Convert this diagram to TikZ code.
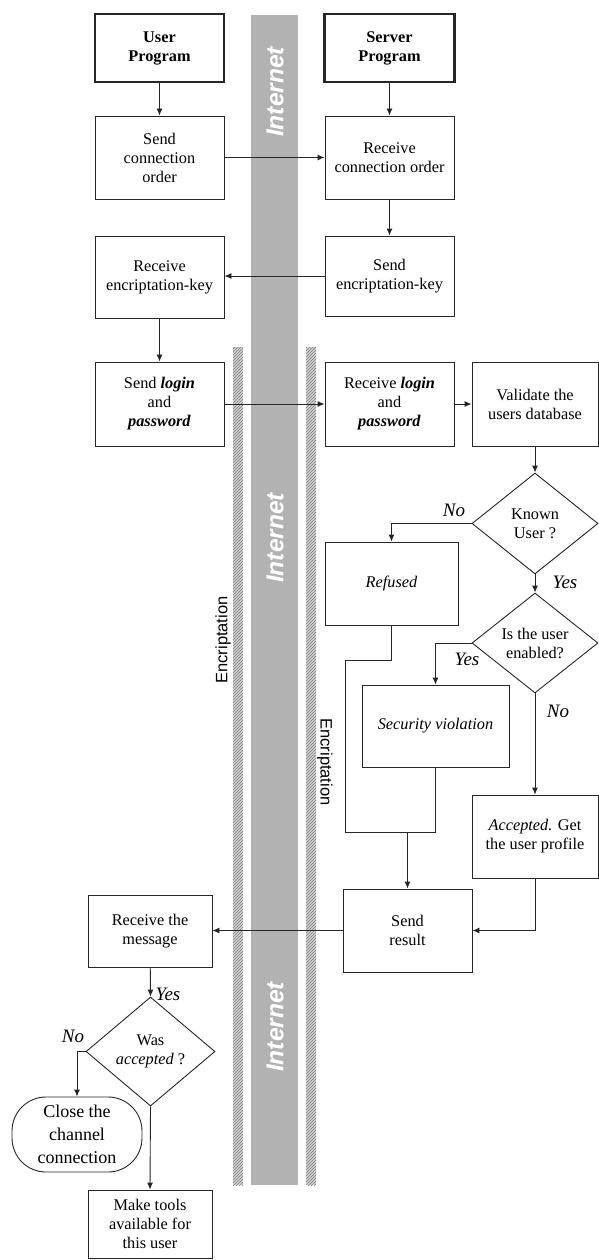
\documentclass[tikz,border=0pt]{standalone}
\usepackage{fontspec}
\setmainfont{Liberation Serif}
\setsansfont{Liberation Sans}
\usetikzlibrary{arrows.meta,shapes.geometric,patterns}
\begin{document}
\begin{tikzpicture}[x=1pt,y=-1pt,
  box/.style={draw=black!85, line width=0.9pt, fill=white, align=center, inner sep=0pt,
    font=\fontsize{16.3}{19}\selectfont},
  mainbox/.style={box, line width=2.2pt, font=\fontsize{16.3}{19}\selectfont\bfseries},
  dia/.style={diamond, draw=black!85, line width=0.9pt, fill=white, inner sep=0pt, aspect=1.2},
  diatext/.style={align=center, font=\fontsize{16.3}{19}\selectfont},
  arr/.style={draw=black!85, line width=0.9pt, -{Latex[length=7pt,width=6pt]}},
  ln/.style={draw=black!85, line width=0.9pt},
  yn/.style={font=\fontsize{19}{22}\selectfont\itshape, inner sep=0pt},
  net/.style={font=\fontsize{24.5}{27}\selectfont\sffamily\bfseries\itshape, text=white, rotate=90, inner sep=0pt},
  enc/.style={font=\fontsize{16.5}{19}\selectfont\sffamily, inner sep=0pt}
]
\useasboundingbox (0,0) rectangle (599,1260);
% Internet band
\fill[black!30] (251,15) rectangle (298,1185);
\node[net] (net1) at (275,92) {Internet};
\node[net] (net2) at (275,538) {Internet};
\node[net] (net3) at (275,1027) {Internet};
% Encryption strips
\fill[black!18] (233,347) rectangle (243,1185);
\fill[pattern=north east lines, pattern color=black!50] (233,347) rectangle (243,1185);
\fill[black!18] (306,347) rectangle (316,1185);
\fill[pattern=north east lines, pattern color=black!50] (306,347) rectangle (316,1185);
\node[enc, rotate=90] (encl) at (223,640) {Encriptation};
\node[enc, rotate=-90] (encr) at (325,762) {Encriptation};

% Nodes
\node[mainbox, minimum width=129, minimum height=68] (user) at (159.5,48) {User\\Program};
\node[box, minimum width=129, minimum height=83] (sendconn) at (159.5,157.5) {Send\\connection\\order};
\node[box, minimum width=129, minimum height=82] (recvkey) at (159.5,277) {Receive\\encriptation-key};
\node[mainbox, minimum width=130, minimum height=68] (server) at (389.5,48) {Server\\Program};
\node[box, minimum width=129, minimum height=83] (recvconn) at (389.5,157.5) {Receive\\connection order};
\node[box, minimum width=129, minimum height=80] (sendkey) at (389.5,276) {Send\\encriptation-key};
\node[box, minimum width=129, minimum height=84] (sendlogin) at (159.5,404) {Send \textbf{\textit{login}}\\and\\\textbf{\textit{password}}};
\node[box, minimum width=129, minimum height=84] (recvlogin) at (389.5,404) {Receive \textbf{\textit{login}}\\and\\\textbf{\textit{password}}};
\node[box, minimum width=126, minimum height=84] (validate) at (535,404) {Validate the\\users database};
\node[dia, minimum width=126, minimum height=101,
  label={[diatext]center:Known\\User ?}] (known) at (535,523.5) {};
\node[box, minimum width=133, minimum height=83] (refused) at (391.5,583.5) {\textit{Refused}};
\node[dia, minimum width=126, minimum height=100,
  label={[diatext]center:Is the user\\enabled?}] (enabled) at (535,643) {};
\node[box, minimum width=147, minimum height=82] (secviol) at (435.5,726) {\textit{Security violation}};
\node[box, minimum width=126, minimum height=83] (accepted) at (535,836.5) {\textit{Accepted.} Get\\the user profile};
\node[box, minimum width=129, minimum height=83] (sendresult) at (407.5,930.5) {Send\\result};
\node[box, minimum width=124, minimum height=72] (recvmsg) at (150,931) {Receive the\\message};
\node[dia, minimum width=129, minimum height=109,
  label={[diatext]center:Was\\\textit{accepted} ?}] (wasacc) at (150.5,1051.5) {};
\node[box, rounded corners=34pt, minimum width=130, minimum height=75,
  font=\fontsize{18}{23}\selectfont] (close) at (77,1134.5) {Close the\\channel\\connection};
\node[box, minimum width=124, minimum height=68] (tools) at (150,1224) {Make tools\\available for\\this user};

% Connectors
\draw[arr] (user) -- (sendconn);
\draw[arr] (server) -- (recvconn);
\draw[arr] (sendconn.east) -- (recvconn.west);
\draw[arr] (recvconn) -- (sendkey);
\draw[arr] (sendkey.west) -- (sendkey.west -| recvkey.east);
\draw[arr] (recvkey) -- (sendlogin);
\draw[arr] (sendlogin) -- (recvlogin);
\draw[arr] (recvlogin) -- (validate);
\draw[arr] (validate) -- (known.north);
\draw[arr] (known.west) -| (refused.north);
\draw[arr] (known.south) -- (enabled.north);
\draw[arr] (enabled.west) -| (secviol.north);
\draw[arr] (enabled.south) -- (accepted.north);
\coordinate (rb) at (391.5,660);
\coordinate (rl) at (345,660);
\coordinate (rll) at (345,832);
\coordinate (mg) at (435.5,832);
\coordinate (md) at (407.5,832);
\draw[ln] (refused.south) -- (rb) -- (rl) -- (rll) -- (mg);
\draw[ln] (secviol.south) -- (mg);
\draw[arr] (md) -- (sendresult.north);
\draw[arr] (accepted.south) |- (sendresult.east);
\draw[arr] (sendresult.west) -- (sendresult.west -| recvmsg.east);
\draw[arr] (recvmsg) -- (wasacc.north);
\draw[arr] (wasacc.west) -| (close.north);
\draw[arr] (wasacc.south) -- (tools.north);

% Yes / No labels
\node[yn] (kno) at (454,510) {No};
\node[yn] (kyes) at (565,582) {Yes};
\node[yn] (eyes) at (467,659) {Yes};
\node[yn] (eno) at (558,711) {No};
\node[yn] (wyes) at (168,994) {Yes};
\node[yn] (wno) at (73,1036) {No};
\end{tikzpicture}
\end{document}
